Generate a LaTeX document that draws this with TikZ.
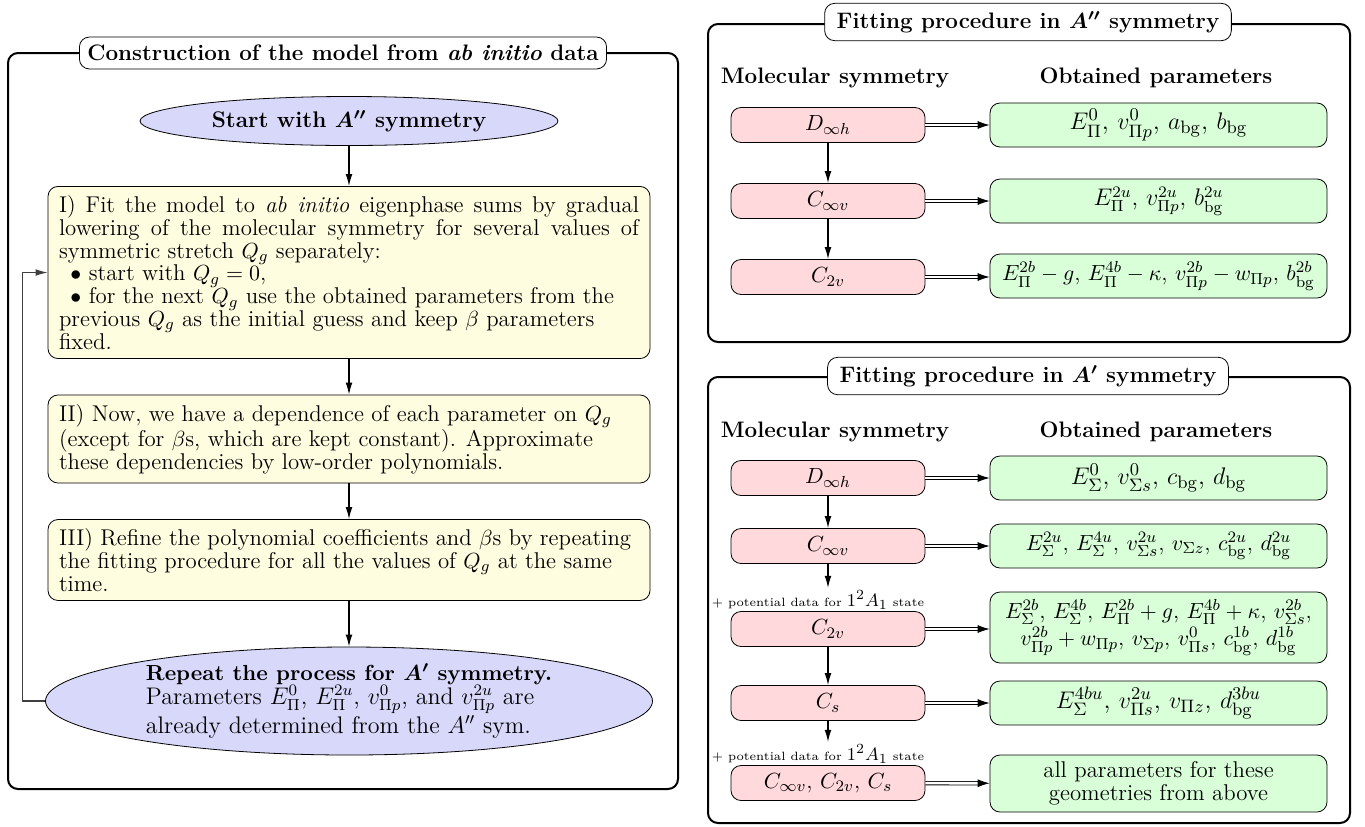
\documentclass[tikz,border=0pt]{standalone}
\usepackage{amsmath}
\usetikzlibrary{shapes.geometric,arrows.meta}

\definecolor{ovalblue}{RGB}{216,216,250}
\definecolor{stageyellow}{RGB}{255,253,223}
\definecolor{symred}{RGB}{255,217,220}
\definecolor{pargreen}{RGB}{217,255,217}

\begin{document}
\begin{tikzpicture}[x=0.5pt,y=-0.5pt]
  \tikzset{Frame/.style={draw, line width=1pt, rounded corners=5pt},
           Title/.style={draw, fill=white, rounded corners=5pt, inner xsep=6pt, inner ysep=4pt,
                         font=\bfseries\boldmath\fontsize{11.2}{13}\selectfont},
           Head/.style={font=\bfseries\fontsize{11.2}{13}\selectfont},
           Oval/.style={draw, ellipse, fill=ovalblue, inner sep=0pt,
                        font=\fontsize{12}{12}\selectfont},
           Stage/.style={draw, rounded corners=5pt, fill=stageyellow, align=justify,
                         text width=290pt, minimum width=301pt, inner sep=4.5pt,
                         font=\fontsize{11.4}{11.4}\selectfont},
           Sym/.style={draw, rounded corners=5pt, fill=symred, minimum width=97pt,
                       minimum height=17.5pt, font=\fontsize{11.4}{11.4}\selectfont},
           Par/.style={draw, rounded corners=5pt, fill=pargreen, minimum width=168.5pt,
                       minimum height=22pt, align=center, inner sep=2pt,
                       font=\fontsize{11.4}{11.4}\selectfont},
           Note/.style={inner sep=1pt, font=\fontsize{6}{8}\selectfont},
           Arr/.style={-{Latex[length=6pt,width=3.4pt]}, line width=0.6pt},
           Dbl/.style={double, double distance=1.3pt, line width=0.4pt,
                       -{Latex[length=6pt,width=4pt]}}}
  \newcommand{\st}{\mbox{\fontsize{9.5}{10}\selectfont$1^2A_1$}}
  \useasboundingbox (0,0) rectangle (1365,826);

  % left: construction of the model
  \draw[Frame] (8,53) rectangle (678,789);
  \node[Title, inner xsep=4pt] (T1) at (343,53) {Construction of the model from \textit{ab initio} data};
  \node[Oval, minimum width=209pt, minimum height=24.5pt, font=\bfseries\boldmath\fontsize{11.3}{13}\selectfont]
    (L1) at (349,121) {Start with $A''$ symmetry};
  \node[Stage, minimum height=84.5pt] (L2) at (349,272.5)
    {I) Fit the model to \textit{ab initio} eigenphase sums by gradual\linebreak
     lowering of the molecular symmetry for several values of\linebreak
     symmetric stretch $Q_g$ separately:\\
     \hspace*{0.5em}$\bullet$ start with $Q_g=0$,\\
     \hspace*{0.5em}$\bullet$ for the next $Q_g$ use the obtained parameters from the\\
     previous $Q_g$ as the initial guess and keep $\beta$ parameters\\
     fixed.};
  \node[Stage, minimum height=41pt] (L3) at (349,439)
    {II) Now, we have a dependence of each parameter on $Q_g$\\
     (except for $\beta$s, which are kept constant). Approximate\\
     these dependencies by low-order polynomials.};
  \node[Stage, minimum height=40pt] (L4) at (349,560)
    {III) Refine the polynomial coefficients and $\beta$s by repeating\\
     the fitting procedure for all the values of $Q_g$ at the same\\
     time.};
  \node[Oval, minimum width=303.5pt, minimum height=54pt, align=left] (L5) at (349,701)
    {{\bfseries\boldmath\fontsize{10.9}{12}\selectfont Repeat the process for $A'$ symmetry.}\\
     Parameters $E^0_\Pi$, $E^{2u}_\Pi$, $v^0_{\Pi p}$, and $v^{2u}_{\Pi p}$ are\\
     already determined from the $A''$ sym.};
  \draw[Arr] (L1) -- (L2);
  \draw[Arr] (L2) -- (L3);
  \draw[Arr] (L3) -- (L4);
  \draw[Arr] (L4) -- (L5);
  \draw[Arr, black!75] (L5.west) -- ++(-23,0) |- (L2.west);

  % right top: A'' symmetry
  \draw[Frame] (708,24) rectangle (1350,342);
  \node[Title] (T2) at (1028,22) {Fitting procedure in $A''$ symmetry};
  \node[Head] (H1) at (835,78) {Molecular symmetry};
  \node[Head] (H2) at (1156,78) {Obtained parameters};
  \node[Sym] (M1) at (828,125) {$D_{\infty h}$};
  \node[Sym] (M2) at (828,201) {$C_{\infty v}$};
  \node[Sym] (M3) at (828,277) {$C_{2v}$};
  \node[Par, font=\fontsize{12.8}{13}\selectfont] (P1) at (1158.5,125)
    {$E^0_\Pi$, $v^0_{\Pi p}$, $a_{\mathrm{bg}}$, $b_{\mathrm{bg}}$};
  \node[Par, font=\fontsize{12}{13}\selectfont] (P2) at (1158.5,201)
    {$E^{2u}_\Pi$, $v^{2u}_{\Pi p}$, $b^{2u}_{\mathrm{bg}}$};
  \node[Par] (P3) at (1158.5,276)
    {$E^{2b}_\Pi-g$, $E^{4b}_\Pi-\kappa$, $v^{2b}_{\Pi p}-w_{\Pi p}$, $b^{2b}_{\mathrm{bg}}$};
  \draw[Arr] (M1) -- (M2);
  \draw[Arr] (M2) -- (M3);
  \draw[Dbl] (M1) -- (P1);
  \draw[Dbl] (M2) -- (P2);
  \draw[Dbl] (M3) -- (M3 -| P3.west);

  % right bottom: A' symmetry
  \draw[Frame] (708,377) rectangle (1350,823);
  \node[Title] (T3) at (1028,376) {Fitting procedure in $A'$ symmetry};
  \node[Head] (H3) at (835,432) {Molecular symmetry};
  \node[Head] (H4) at (1156,432) {Obtained parameters};
  \node[Sym] (M4) at (828,478) {$D_{\infty h}$};
  \node[Sym] (M5) at (828,546) {$C_{\infty v}$};
  \node[Sym] (M6) at (828,629) {$C_{2v}$};
  \node[Sym] (M7) at (828,703) {$C_s$};
  \node[Sym] (M8) at (828,783) {$C_{\infty v}$, $C_{2v}$, $C_s$};
  \node[Note] (A1) at (818,600) {+ potential data for \st{} state};
  \node[Note] (A2) at (818,754) {+ potential data for \st{} state};
  \node[Par, font=\fontsize{12.6}{13}\selectfont] (P4) at (1158.5,478)
    {$E^0_\Sigma$, $v^0_{\Sigma s}$, $c_{\mathrm{bg}}$, $d_{\mathrm{bg}}$};
  \node[Par] (P5) at (1158.5,546)
    {$E^{2u}_\Sigma$, $E^{4u}_\Sigma$, $v^{2u}_{\Sigma s}$, $v_{\Sigma z}$, $c^{2u}_{\mathrm{bg}}$, $d^{2u}_{\mathrm{bg}}$};
  \node[Par, minimum height=35.5pt] (P6) at (1158.5,627.5)
    {$E^{2b}_\Sigma$, $E^{4b}_\Sigma$, $E^{2b}_\Pi+g$, $E^{4b}_\Pi+\kappa$, $v^{2b}_{\Sigma s}$,\\
     $v^{2b}_{\Pi p}+w_{\Pi p}$, $v_{\Sigma p}$, $v^0_{\Pi s}$, $c^{1b}_{\mathrm{bg}}$, $d^{1b}_{\mathrm{bg}}$};
  \node[Par, font=\fontsize{12.8}{13}\selectfont] (P7) at (1158.5,703)
    {$E^{4bu}_\Sigma$, $v^{2u}_{\Pi s}$, $v_{\Pi z}$, $d^{3bu}_{\mathrm{bg}}$};
  \node[Par, minimum height=28.5pt] (P8) at (1158.5,783.5)
    {all parameters for these\\ geometries from above};
  \draw[Arr] (M4) -- (M5);
  \draw[Arr] (M5) -- (M5 |- A1.north);
  \draw[Arr] (M6) -- (M7);
  \draw[Arr] (M7) -- (M7 |- A2.north);
  \draw[Dbl] (M4) -- (P4);
  \draw[Dbl] (M5) -- (P5);
  \draw[Dbl] (M6) -- (M6 -| P6.west);
  \draw[Dbl] (M7) -- (P7);
  \draw[Dbl] (M8) -- (P8);
\end{tikzpicture}
\end{document}
